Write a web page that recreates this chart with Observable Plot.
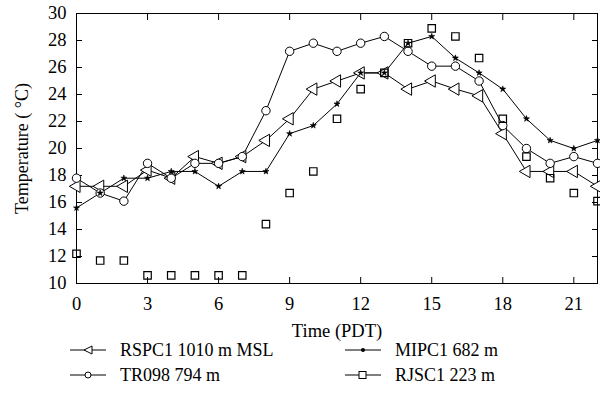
<!DOCTYPE html>
<html><head><meta charset="utf-8">
<script src="https://cdn.jsdelivr.net/npm/d3@7"></script>
<script src="https://cdn.jsdelivr.net/npm/@observablehq/plot@0.6"></script>
<style>
body{margin:0;background:#fff;font-family:'Liberation Serif',serif;}
#legend{position:relative;width:600px;height:72px;font-size:18px;color:#000;font-family:'Liberation Serif',serif;}
.item{position:absolute;display:flex;align-items:center;white-space:nowrap;height:20px;line-height:20px;}
.item svg{margin-right:14px;}
</style>
</head><body><div id="chart"></div><div id="legend"></div>
<script>
const hours = [0,1,2,3,4,5,6,7,8,9,10,11,12,13,14,15,16,17,18,19,20,21,22];
const rspc1 = [17.2,17.2,17.2,18.4,17.8,19.4,18.9,19.4,20.6,22.2,24.4,25.0,25.6,25.6,24.4,25.0,24.4,23.9,21.1,18.3,18.3,18.3,17.2];
const tr098 = [17.8,16.7,16.1,18.9,17.8,18.9,18.9,19.4,22.8,27.2,27.8,27.2,27.8,28.3,27.2,26.1,26.1,25.0,21.7,20.0,18.9,19.4,18.9];
const mipc1 = [15.6,16.7,17.8,17.8,18.3,18.3,17.2,18.3,18.3,21.1,21.7,23.3,25.6,25.6,27.8,28.3,26.7,25.6,24.4,22.2,20.6,20.0,20.6];
const rjsc1 = [12.2,11.7,11.7,10.6,10.6,10.6,10.6,10.6,14.4,16.7,18.3,22.2,24.4,25.6,27.8,28.9,28.3,26.7,22.2,19.4,17.8,16.7,16.1];
const seriesNames = ["RSPC1 1010 m MSL","MIPC1 682 m","TR098 794 m","RJSC1 223 m"];
const xTicks = [0,3,6,9,12,15,18,21];
const yTicks = [10,12,14,16,18,20,22,24,26,28,30];

const rows = (vals) => hours.map((h,i) => ({h, t: vals[i]}));
const dR = rows(rspc1), dT = rows(tr098), dM = rows(mipc1), dJ = rows(rjsc1);

const chart = Plot.plot({
  width: 600, height: 345,
  marginLeft: 76, marginRight: 3, marginTop: 13, marginBottom: 62,
  style: {fontFamily: "Liberation Serif", fontSize: "18px", color: "#000", background: "#fff", overflow: "visible"},
  x: {domain: [0, 22], label: null},
  y: {domain: [10, 30], label: null},
  marks: [
    Plot.frame({stroke: "#000", strokeWidth: 1}),
    Plot.axisX(xTicks, {anchor: "bottom", tickSize: 0, tickPadding: 13, fontSize: 18.5}),
    Plot.axisX(xTicks, {anchor: "bottom", tickSize: -6, text: null}),
    Plot.axisX(xTicks, {anchor: "top", tickSize: -6, text: null}),
    Plot.axisX({anchor: "bottom", label: "Time (PDT)", labelAnchor: "center", labelArrow: "none", labelOffset: 53, ticks: [], tickSize: 0, fontSize: 18.5}),
    Plot.axisY(yTicks, {anchor: "left", tickSize: 0, tickPadding: 10, fontSize: 18.5}),
    Plot.axisY(yTicks, {anchor: "left", tickSize: -6, text: null}),
    Plot.axisY(yTicks, {anchor: "right", tickSize: -6, text: null}),
    Plot.axisY({anchor: "left", label: "Temperature ( °C)", labelAnchor: "center", labelArrow: "none", labelOffset: 61, ticks: [], tickSize: 0, fontSize: 18}),
    Plot.line(dR, {x: "h", y: "t", stroke: "#000", strokeWidth: 1}),
    Plot.line(dT, {x: "h", y: "t", stroke: "#000", strokeWidth: 1}),
    Plot.line(dM, {x: "h", y: "t", stroke: "#000", strokeWidth: 1}),
    Plot.dot(dR, {x: "h", y: "t", symbol: "triangle", rotate: -90, r: 4.6, stroke: "#000", fill: "#fff", strokeWidth: 1}),
    Plot.dot(dT, {x: "h", y: "t", symbol: "circle", r: 4.2, stroke: "#000", fill: "#fff", strokeWidth: 1}),
    Plot.dot(dM, {x: "h", y: "t", symbol: "star", r: 1.9, stroke: "#000", fill: "#000", strokeWidth: 0.6}),
    Plot.dot(dJ, {x: "h", y: "t", symbol: "square", r: 4.2, stroke: "#000", fill: "none", strokeWidth: 1.2})
  ]
});
document.getElementById("chart").appendChild(chart);

// legend
const sym = {
  "RSPC1 1010 m MSL": '<polygon points="14,7 22,3 22,11" fill="#fff" stroke="#000"/>',
  "MIPC1 682 m": '<circle cx="18" cy="7" r="2" fill="#000"/>',
  "TR098 794 m": '<circle cx="18" cy="7" r="3" fill="#fff" stroke="#000"/>',
  "RJSC1 223 m": '<rect x="14" y="3.5" width="7" height="7" fill="#fff" stroke="#000"/>'
};
const pos = [[70,340],[345,340],[70,365],[345,365]];
const leg = document.getElementById("legend");
seriesNames.forEach((name, i) => {
  const [lx, ly] = pos[i];
  const div = document.createElement("div");
  div.className = "item";
  div.style.left = lx + "px";
  div.style.top = (ly - 345) + "px";
  div.innerHTML = `<svg width="36" height="14"><line x1="0" y1="7" x2="36" y2="7" stroke="#000"/>${sym[name]}</svg><span>${name}</span>`;
  leg.appendChild(div);
});
</script>
</body></html>
